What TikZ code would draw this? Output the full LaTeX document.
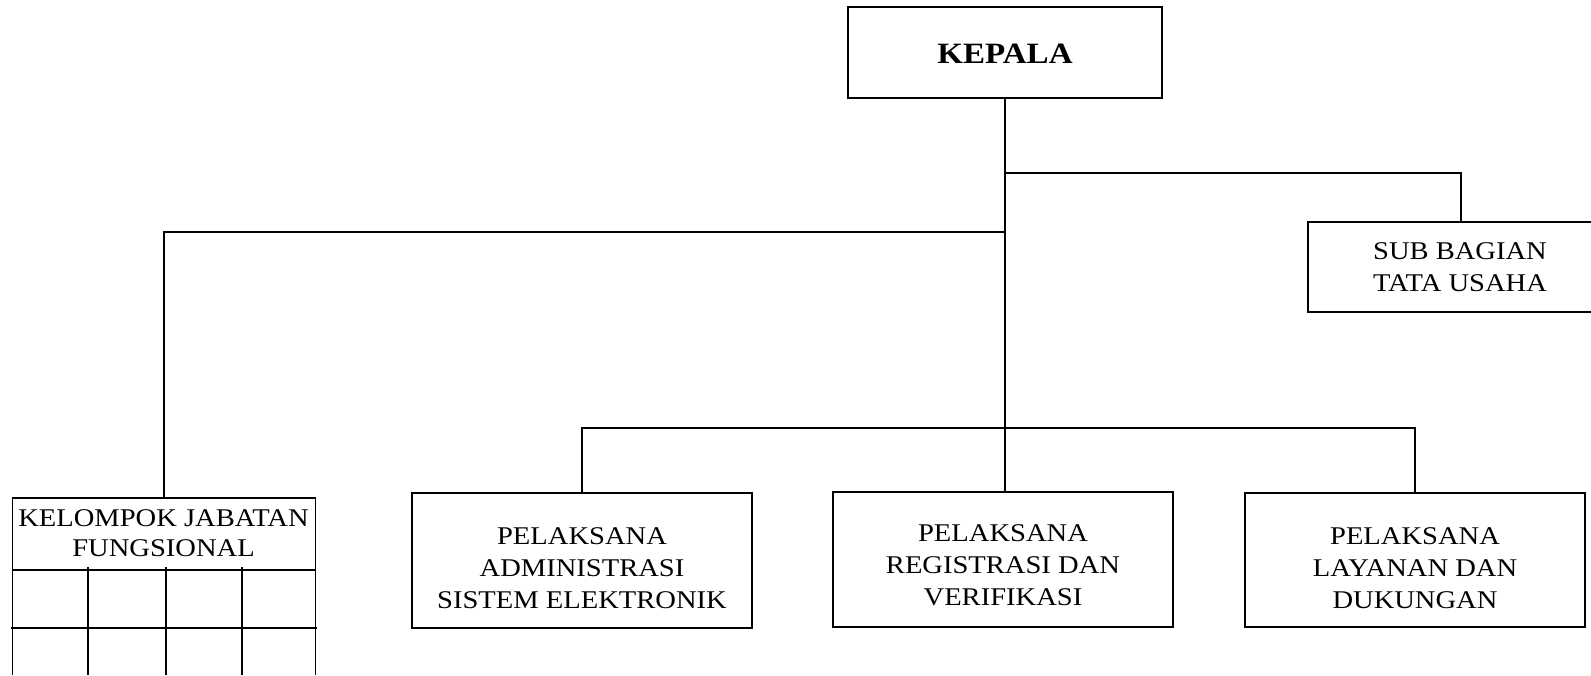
\documentclass[tikz,border=0pt]{standalone}
\usepackage{fontspec}
\setmainfont[FakeStretch=1.12]{Liberation Serif}
\begin{document}
\begin{tikzpicture}[x=1pt,y=-1pt,
  box/.style={draw, line width=1.6pt, inner sep=0pt},
  ln/.style={line width=1.6pt},
  lbl/.style={align=center, inner sep=0pt, font=\fontsize{25.5}{32}\selectfont}]
\useasboundingbox (0,0) rectangle (1591,675);
\clip (0,0) rectangle (1591,675);
% boxes
\node[box, minimum width=314pt, minimum height=91pt] (kepala) at (1005,52.5) {};
\node[box, minimum width=306pt, minimum height=90pt] (sub) at (1461,267) {};
\node[box, minimum width=340pt, minimum height=135pt] (adm) at (582,560.5) {};
\node[box, minimum width=340pt, minimum height=135pt] (reg) at (1003,559.5) {};
\node[box, minimum width=340pt, minimum height=134pt] (lay) at (1415,560) {};
\node[box, minimum width=303pt, minimum height=72pt] (kjf) at (164,534) {};
% texts
\node[lbl, font=\fontsize{29.5}{34}\selectfont\bfseries] (tkepala) at (1005,54) {KEPALA};
\node[lbl] (tsub) at (1460,267) {SUB BAGIAN\\TATA USAHA};
\node[lbl] (tadm) at (582,568) {PELAKSANA\\ADMINISTRASI\\SISTEM ELEKTRONIK};
\node[lbl] (treg) at (1003,565) {PELAKSANA\\REGISTRASI DAN\\VERIFIKASI};
\node[lbl] (tlay) at (1415,568) {PELAKSANA\\LAYANAN DAN\\DUKUNGAN};
\node[lbl, font=\fontsize{25.5}{30}\selectfont] (tkjf) at (163.5,533) {KELOMPOK JABATAN\\FUNGSIONAL};
% connectors
\draw[ln] (kepala.south) -- (kepala.south |- reg.north);
\draw[ln] (kepala.south |- 0,173) -| (sub.north);
\draw[ln] (kepala.south |- 0,232) -| (kjf.north);
\draw[ln] (adm.north) -- (adm.north |- 0,428) -- (lay.north |- 0,428) -- (lay.north);
% table grid under KELOMPOK JABATAN FUNGSIONAL
\draw[ln] (12.5,570) -- (12.5,675);
\draw[ln] (315.5,570) -- (315.5,675);
\draw[ln] (88,567) -- (88,675);
\draw[ln] (166,567) -- (166,675);
\draw[ln] (242,567) -- (242,675);
\draw[ln] (11,628) -- (317,628);
\end{tikzpicture}
\end{document}
